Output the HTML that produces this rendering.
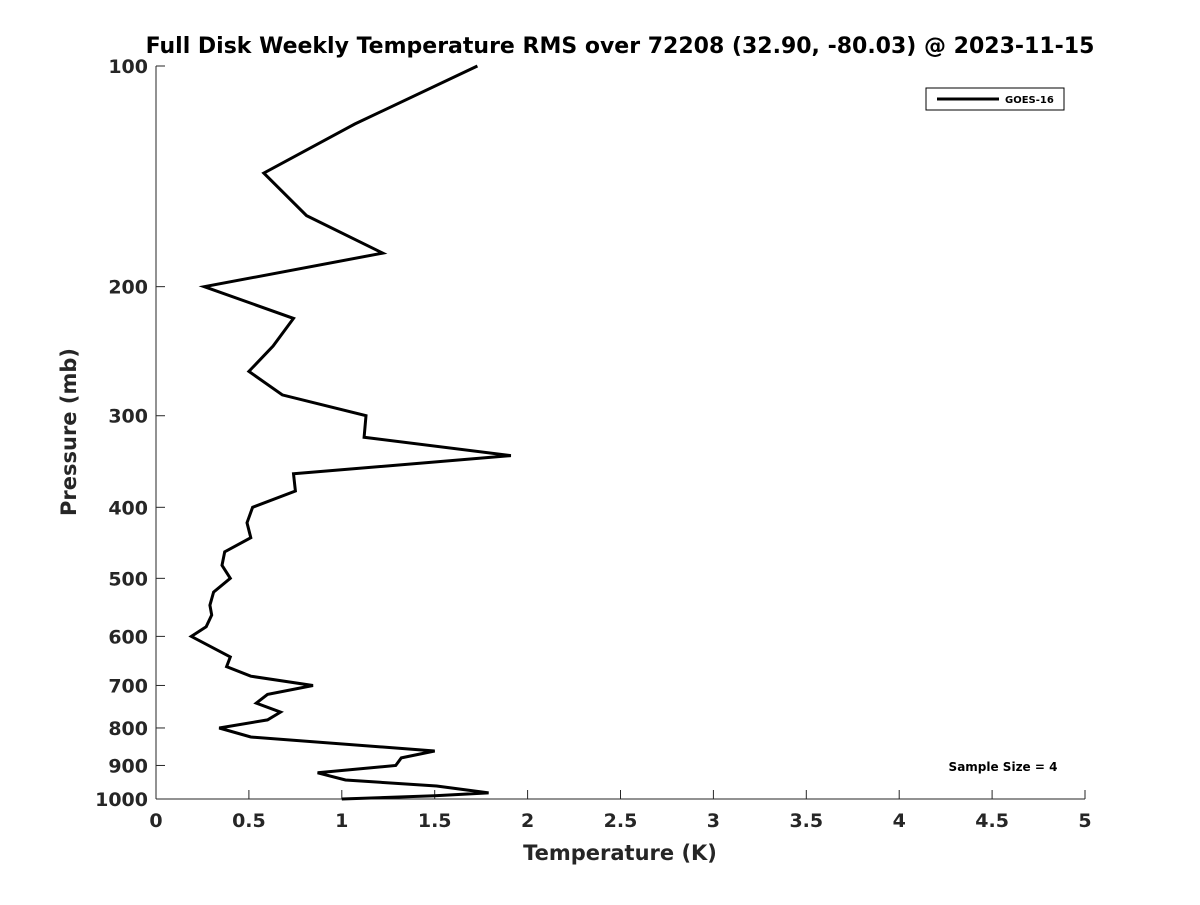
<!DOCTYPE html>
<html><head><meta charset="utf-8"><style>
body{margin:0;background:#fff}
svg text{font-family:"DejaVu Sans","Liberation Sans",sans-serif;font-weight:bold;fill:#262626}
</style></head><body>
<svg id="chart" width="1200" height="900" xmlns="http://www.w3.org/2000/svg">
<rect width="1200" height="900" fill="#fff"/>
<text x="620" y="53" font-size="22" text-anchor="middle" style="fill:#000">Full Disk Weekly Temperature RMS over 72208 (32.90, -80.03) @ 2023-11-15</text>
<g id="axes"></g>
<g id="series"></g>
<text x="620" y="860" font-size="21" text-anchor="middle">Temperature (K)</text>
<text x="0" y="0" font-size="21" text-anchor="middle" transform="translate(76,432) rotate(-90)">Pressure (mb)</text>
<g>
<rect x="926" y="88" width="138" height="22" fill="#fff" stroke="#000" stroke-width="1"/>
<line x1="937" y1="99" x2="999" y2="99" stroke="#000" stroke-width="3"/>
<text x="1005" y="103" font-size="10" style="fill:#000">GOES-16</text>
</g>
<text x="1003" y="771" font-size="12" text-anchor="middle" style="fill:#000">Sample Size = 4</text>
</svg>
<script>
const xTicks=[0,0.5,1,1.5,2,2.5,3,3.5,4,4.5,5];
const xTickLabels=["0","0.5","1","1.5","2","2.5","3","3.5","4","4.5","5"];
const yTicks=[100,200,300,400,500,600,700,800,900,1000];
const pressure=[100,120,140,160,180,200,221,241,261,281,300,321,340,360,380,400,420,440,460,480,500,522,544,561,582,600,640,660,680,700,720,740,761,780,800,823,860,879,900,921,942,960,981,990,1000];
const tempRMS=[1.73,1.07,0.58,0.81,1.22,0.26,0.74,0.63,0.50,0.68,1.13,1.12,1.91,0.74,0.75,0.52,0.49,0.51,0.37,0.355,0.40,0.31,0.29,0.30,0.27,0.19,0.40,0.38,0.51,0.845,0.60,0.54,0.67,0.60,0.34,0.51,1.50,1.32,1.29,0.87,1.02,1.51,1.79,1.50,1.00];
const L=156,R=1085,T=66,B=799;
const xs=v=>L+(v-0)/(5-0)*(R-L);
const ys=p=>T+(Math.log10(p)-2)/(3-2)*(B-T);
const NS="http://www.w3.org/2000/svg";
const ax=document.getElementById('axes');
function mk(tag,attrs,parent){const e=document.createElementNS(NS,tag);for(const k in attrs)e.setAttribute(k,attrs[k]);parent.appendChild(e);return e;}
let e=mk('line',{x1:L,y1:B,x2:R,y2:B,stroke:'#262626','stroke-width':1},ax);


e=mk('line',{x1:L,y1:T,x2:L,y2:B,stroke:'#262626','stroke-width':1},ax);


xTicks.forEach((v,i)=>{
 const t=mk('line',{x1:xs(v),y1:B,x2:xs(v),y2:B-9,stroke:'#262626'},ax);
 
 
 const l=mk('text',{x:xs(v),y:B+28,'font-size':19,'text-anchor':'middle'},ax);
 l.textContent=xTickLabels[i];
 
 
});
yTicks.forEach(p=>{
 const t=mk('line',{x1:L,y1:ys(p),x2:L+9,y2:ys(p),stroke:'#262626'},ax);
 
 
 const l=mk('text',{x:L-8,y:ys(p)+7,'font-size':19,'text-anchor':'end'},ax);
 l.textContent=String(p);
 
 
});
const pts=pressure.map((p,i)=>xs(tempRMS[i]).toFixed(1)+','+ys(p).toFixed(1)).join(' ');
const pl=mk('polyline',{points:pts,fill:'none',stroke:'#000','stroke-width':3,'stroke-linejoin':'miter'},document.getElementById('series'));


</script>
</body></html>
